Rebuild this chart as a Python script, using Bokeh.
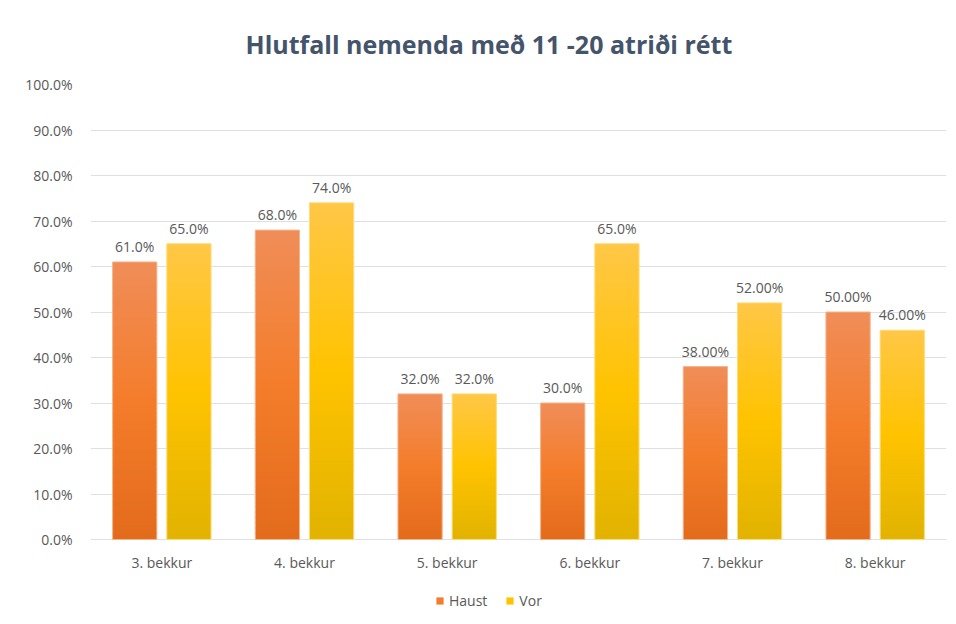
import numpy as np
from bokeh.plotting import figure
from bokeh.models import (ColumnDataSource, NumeralTickFormatter, FactorRange,
                          Legend, LegendItem, FixedTicker, Range1d)
from bokeh.transform import dodge
from bokeh.core.properties import value
from bokeh.embed import file_html
from bokeh.resources import INLINE

# ---------------- data ----------------
categories = ["3. bekkur", "4. bekkur", "5. bekkur", "6. bekkur", "7. bekkur", "8. bekkur"]
haust = [0.61, 0.68, 0.32, 0.30, 0.38, 0.50]
vor = [0.65, 0.74, 0.32, 0.65, 0.52, 0.46]
haust_labels = ["61.0%", "68.0%", "32.0%", "30.0%", "38.00%", "50.00%"]
vor_labels = ["65.0%", "74.0%", "32.0%", "65.0%", "52.00%", "46.00%"]
y_ticks = [0.0, 0.1, 0.2, 0.3, 0.4, 0.5, 0.6, 0.7, 0.8, 0.9, 1.0]
series_names = ["Haust", "Vor"]
title_text = "Hlutfall nemenda með 11 -20 atriði rétt"

# ---------------- style ----------------
FONT = "Open Sans"
TXT = "#595959"
GRID = "#DDE1E7"
# gradient stops: bottom, middle, top
grad_haust = ["#E36B1C", "#F47D2B", "#F08D58"]
grad_vor = ["#E1B300", "#FFC300", "#FFC747"]
outline_haust = "#F6B48A"
outline_vor = "#FFDC7A"
OFFSET = 0.19
BAR_W = 0.31
NSLICE = 60
FS = "14px"
Y_BOTTOM_PAD = -0.1824   # room under the zero line for category labels and legend


def hex2rgb(h):
    h = h.lstrip("#")
    return np.array([int(h[i:i + 2], 16) for i in (0, 2, 4)], dtype=float)


def interp(stops, t):
    a, b, c = (hex2rgb(s) for s in stops)
    if t <= 0.5:
        rgb = a + (b - a) * (t / 0.5)
    else:
        rgb = b + (c - b) * ((t - 0.5) / 0.5)
    return "#%02x%02x%02x" % tuple(int(round(v)) for v in rgb)


def slices(vals, stops):
    cats, bottoms, tops, colors = [], [], [], []
    for cat, v in zip(categories, vals):
        for i in range(NSLICE):
            cats.append(cat)
            bottoms.append(v * i / NSLICE)
            tops.append(min(v, v * (i + 1.6) / NSLICE))
            colors.append(interp(stops, (i + 0.5) / NSLICE))
    return ColumnDataSource(dict(cat=cats, bottom=bottoms, top=tops, color=colors))


p = figure(x_range=FactorRange(*categories), y_range=Range1d(Y_BOTTOM_PAD, 1),
           frame_width=856, frame_height=538, output_backend="svg", toolbar_location=None,
           x_axis_location=None,
           min_border_left=90, min_border_right=2, min_border_top=84,
           min_border_bottom=2, title=title_text)
p.outline_line_color = None
p.background_fill_color = "white"
p.border_fill_color = "white"

p.title.align = "left"
p.title.offset = 155
p.title.text_font = FONT
p.title.text_font_size = "25px"
p.title.text_font_style = "bold"
p.title.text_color = "#44546A"
p.title.standoff = 48

src_main = ColumnDataSource(dict(cat=categories, haust=haust, vor=vor,
                                 hl=haust_labels, vl=vor_labels))

for vals, stops, off in ((haust, grad_haust, -OFFSET), (vor, grad_vor, OFFSET)):
    s = slices(vals, stops)
    p.vbar(x=dodge("cat", off, range=p.x_range), bottom="bottom", top="top",
           width=BAR_W, source=s, fill_color="color", line_color=None)

p.vbar(x=dodge("cat", -OFFSET, range=p.x_range), top="haust", bottom=0, width=BAR_W,
       source=src_main, fill_alpha=0, line_color=outline_haust, line_width=1)
p.vbar(x=dodge("cat", OFFSET, range=p.x_range), top="vor", bottom=0, width=BAR_W,
       source=src_main, fill_alpha=0, line_color=outline_vor, line_width=1)

for col, lab, off in (("haust", "hl", -OFFSET), ("vor", "vl", OFFSET)):
    p.text(x=dodge("cat", off, range=p.x_range), y=col, text=lab, source=src_main,
           text_align="center", text_baseline="bottom", y_offset=-6,
           text_font=value(FONT), text_font_size=FS, text_color=TXT)

# category labels under the zero line
p.text(x="cat", y=0, text="cat", source=src_main,
       text_align="center", text_baseline="top", y_offset=13,
       text_font=value(FONT), text_font_size=FS, text_color=TXT)

# legend swatches: zero-height bars in solid series colours (invisible in the plot)
l_h = p.vbar(x=dodge("cat", -OFFSET, range=p.x_range), top=0, bottom=0, width=BAR_W,
             source=src_main, fill_color=grad_haust[1], line_color=None)
l_v = p.vbar(x=dodge("cat", OFFSET, range=p.x_range), top=0, bottom=0, width=BAR_W,
             source=src_main, fill_color=grad_vor[1], line_color=None)
legend = Legend(items=[LegendItem(label=series_names[0], renderers=[l_h]),
                       LegendItem(label=series_names[1], renderers=[l_v])],
                orientation="horizontal", location=(345, 12),
                glyph_width=9, glyph_height=9, label_height=16,
                label_text_font=FONT, label_text_font_size=FS,
                label_text_color=TXT, border_line_color=None,
                background_fill_alpha=0,
                margin=0, padding=2, spacing=18, label_standoff=5)
p.add_layout(legend, "center")

# y axis
p.yaxis.ticker = FixedTicker(ticks=y_ticks)
p.yaxis.formatter = NumeralTickFormatter(format="0.0%")
p.yaxis.axis_line_color = None
p.yaxis.major_tick_line_color = None
p.yaxis.minor_tick_line_color = None
p.yaxis.major_tick_out = 0
p.yaxis.major_tick_in = 0
p.yaxis.major_label_standoff = 18
p.yaxis.major_label_text_font = FONT
p.yaxis.major_label_text_font_size = FS
p.yaxis.major_label_text_color = TXT

p.xgrid.grid_line_color = None
p.ygrid.ticker = FixedTicker(ticks=y_ticks)
p.ygrid.grid_line_color = GRID
p.ygrid.grid_line_width = 1

open("out.html", "w").write(file_html(p, INLINE))
